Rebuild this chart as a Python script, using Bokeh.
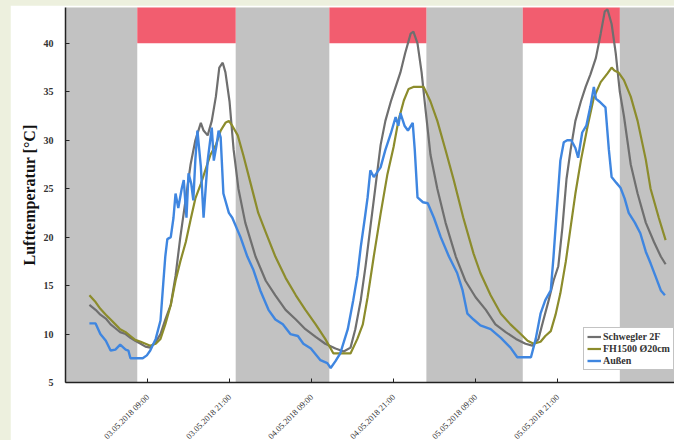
from bokeh.plotting import figure
from bokeh.models import Range1d, FixedTicker, Legend, LegendItem
from bokeh.embed import file_html
from bokeh.resources import INLINE

# ---- data (hours since 02.05.2018 21:00) ----
tick_hours = [12, 24, 36, 48, 60, 72]
tick_labels = ["03.05.2018 09:00", "03.05.2018 21:00", "04.05.2018 09:00",
               "04.05.2018 21:00", "05.05.2018 09:00", "05.05.2018 21:00"]

night_start = [0.0, 24.9, 52.8, 81.1]
night_end = [10.5, 38.6, 66.9, 90.0]
day_start = [10.5, 38.6, 66.9]
day_end = [24.9, 52.8, 81.1]
limit_temp = 40.0

schwegler_t = [3.5, 4.4, 5.1, 5.9, 6.6, 7.3, 8.0, 8.8, 9.5, 10.2, 11.0, 11.7, 12.4, 13.2, 13.9, 14.6,
               15.4, 16.1, 16.8, 17.6, 18.3, 19.0, 19.8, 20.2, 20.8, 21.4, 22.0, 22.5, 23.0, 23.4,
               24.0, 24.6, 25.3, 26.3, 27.8, 29.3, 30.7, 32.2, 33.7, 35.1, 36.6, 38.0, 39.5, 40.7,
               41.7, 42.4, 43.2, 43.9, 44.6, 45.4, 46.1, 46.8, 47.6, 48.3, 49.0, 49.7, 50.5, 50.9,
               51.5, 52.1, 52.7, 53.4, 54.4, 55.6, 57.1, 58.5, 60.0, 61.5, 62.9, 64.4, 65.9, 67.3,
               68.3, 69.2, 69.9, 70.7, 71.4, 72.1, 72.7, 73.3, 73.9, 74.6, 75.4, 76.1, 76.8, 77.6,
               78.3, 78.9, 79.3, 79.9, 80.5, 81.1, 81.7, 82.7, 83.7, 84.9, 86.1, 87.1, 87.8]
schwegler_v = [13.0, 12.5, 12.0, 11.6, 11.0, 10.6, 10.2, 10.0, 9.6, 9.3, 9.0, 8.7, 8.6, 9.2, 10.0, 11.5,
               13.0, 16.0, 20.0, 24.0, 27.5, 30.0, 31.8, 31.0, 30.5, 32.0, 34.5, 37.5, 38.0, 37.0,
               34.0, 29.0, 25.0, 21.5, 18.0, 15.5, 14.0, 12.5, 11.5, 10.5, 9.7, 9.0, 8.5, 8.2,
               8.6, 10.5, 13.5, 17.0, 21.0, 25.5, 29.5, 32.0, 34.0, 35.5, 37.0, 39.0, 41.0, 41.2,
               40.0, 37.0, 33.0, 28.5, 25.0, 21.5, 18.0, 15.5, 13.8, 12.5, 11.0, 10.2, 9.5, 9.0,
               8.8, 9.5, 11.4, 13.5, 15.5, 17.0, 21.0, 26.0, 29.0, 32.0, 34.0, 35.5, 36.8, 38.5,
               41.0, 43.3, 43.5, 42.0, 39.0, 35.0, 32.5, 27.5, 24.5, 21.5, 19.5, 18.0, 17.2]

fh_t = [3.5, 4.4, 5.1, 5.9, 6.6, 7.3, 8.0, 8.8, 9.5, 10.2, 11.0, 11.7, 12.4, 13.2, 13.9, 14.6, 15.4,
        16.1, 16.8, 17.6, 18.3, 19.0, 19.8, 20.5, 21.2, 22.0, 22.7, 23.4, 23.9, 24.4, 25.2, 26.0,
        27.1, 28.2, 29.3, 30.7, 32.2, 33.7, 35.1, 36.6, 38.0, 39.2, 41.7, 42.7, 43.5, 44.2, 45.1,
        46.1, 47.1, 48.0, 48.7, 49.5, 50.2, 50.9, 52.4, 53.4, 54.4, 55.6, 56.8, 58.2, 59.7, 60.7,
        62.2, 63.7, 65.1, 66.6, 67.6, 68.5, 69.5, 70.2, 71.0, 71.7, 72.4, 73.2, 73.9, 74.6, 75.4,
        76.4, 77.3, 78.3, 79.3, 79.9, 80.3, 80.9, 81.7, 82.7, 83.7, 84.9, 85.6, 86.8, 87.8]
fh_v = [14.0, 13.3, 12.6, 12.0, 11.5, 11.0, 10.5, 10.2, 9.8, 9.4, 9.2, 9.0, 8.8, 9.0, 9.5, 11.0, 13.0,
        15.5, 17.5, 19.5, 21.8, 24.0, 25.5, 27.0, 28.5, 29.5, 31.0, 31.8, 32.0, 31.5, 30.5, 28.5,
        25.5, 22.5, 20.5, 18.0, 15.8, 14.0, 12.5, 11.0, 9.5, 8.0, 8.0, 9.5, 11.0, 13.8, 18.0,
        22.4, 26.5, 29.3, 32.0, 34.1, 35.3, 35.5, 35.5, 34.0, 32.0, 29.0, 25.9, 22.0, 18.3, 16.3,
        14.0, 12.1, 11.0, 10.0, 9.3, 9.0, 9.2, 9.8, 10.3, 12.0, 14.2, 17.5, 21.0, 24.5, 27.9,
        31.5, 34.4, 36.0, 36.9, 37.5, 37.2, 37.0, 36.2, 34.5, 32.0, 28.0, 25.0, 22.0, 19.7]

aussen_t = [3.5, 4.4, 5.1, 5.9, 6.6, 7.3, 8.0, 8.8, 9.2, 9.5, 11.3, 11.9, 12.4, 13.2, 13.9, 14.3, 14.6,
            14.9, 15.4, 15.8, 16.1, 16.5, 17.0, 17.3, 17.7, 18.0, 18.4, 18.7, 19.0, 19.3, 19.8, 20.2,
            20.8, 21.4, 21.7, 22.1, 22.4, 22.7, 23.1, 23.9, 24.4, 25.6, 26.6, 27.5, 28.5, 29.7, 30.7,
            31.8, 32.9, 34.0, 34.8, 35.9, 37.3, 38.3, 38.8, 39.5, 40.2, 41.3, 42.1, 42.7, 43.2, 43.8,
            44.2, 44.6, 45.1, 46.1, 46.8, 47.6, 48.3, 48.7, 49.0, 49.6, 50.1, 50.8, 51.1, 51.5, 52.3,
            53.0, 53.9, 54.9, 56.1, 57.3, 58.1, 58.8, 59.7, 60.7, 62.2, 63.7, 65.1, 66.1, 68.1, 68.8,
            69.5, 70.2, 71.0, 71.4, 71.9, 72.4, 72.9, 73.4, 74.0, 74.6, 75.0, 75.6, 76.2, 76.8, 77.3,
            77.6, 78.1, 79.0, 79.5, 79.9, 80.6, 81.2, 81.8, 82.4, 83.3, 84.1, 84.9, 85.6, 86.3, 87.1,
            87.7]
aussen_v = [11.1, 11.1, 10.0, 9.3, 8.3, 8.4, 8.9, 8.4, 8.3, 7.5, 7.5, 7.8, 8.3, 9.5, 11.4, 15.2, 18.0,
            19.8, 20.0, 22.0, 24.5, 23.0, 25.0, 25.9, 22.0, 26.6, 25.5, 23.8, 28.0, 31.0, 27.3, 22.0,
            27.9, 31.3, 27.9, 29.5, 31.0, 30.3, 24.5, 22.5, 22.0, 20.0, 18.0, 16.6, 14.5, 12.5, 11.5,
            11.0, 10.0, 9.8, 9.0, 8.5, 7.3, 7.0, 6.5, 7.2, 8.0, 10.5, 13.5, 16.0, 19.0, 22.0,
            24.1, 26.9, 26.2, 27.2, 29.0, 30.7, 32.4, 31.5, 32.8, 31.5, 31.0, 31.8, 29.0, 24.1, 23.6,
            23.5, 22.0, 20.0, 18.0, 16.3, 14.5, 12.1, 11.5, 10.9, 10.5, 9.6, 8.6, 7.6, 7.6, 9.5,
            12.1, 13.5, 14.5, 18.0, 23.0, 27.9, 29.8, 30.0, 30.0, 29.2, 28.2, 30.8, 31.5, 33.5, 35.5,
            34.3, 34.0, 33.4, 29.0, 26.2, 25.6, 25.1, 24.0, 22.5, 21.5, 20.4, 18.5, 17.3, 16.0, 14.5,
            14.0]

series_names = ["Schwegler 2F", "FH1500 Ø20cm", "Außen"]
series_colors = ["#6f6f6f", "#8c8c2c", "#3f86e0"]

# ---- figure ----
p = figure(frame_width=609, frame_height=375, output_backend="svg", toolbar_location=None,
           x_range=Range1d(0, 89.1), y_range=Range1d(5, 43.7),
           min_border_left=55, min_border_right=0, min_border_top=2, min_border_bottom=58)
p.background_fill_color = "white"
p.border_fill_color = "white"
p.outline_line_color = None
p.grid.visible = False

p.quad(left=night_start, right=night_end, bottom=0, top=60, color="#c2c2c2", line_color=None)
p.quad(left=day_start, right=day_end, bottom=limit_temp, top=60, color="#f25d6f", line_color=None)

renderers = []
for t, v, c, w in [(schwegler_t, schwegler_v, series_colors[0], 2.2),
                   (fh_t, fh_v, series_colors[1], 2.2),
                   (aussen_t, aussen_v, series_colors[2], 2.4)]:
    renderers.append(p.line(t, v, line_color=c, line_width=w))

serif = "Liberation Serif"
p.yaxis.ticker = FixedTicker(ticks=[5, 10, 15, 20, 25, 30, 35, 40])
p.yaxis.axis_label = "Lufttemperatur [°C]"
p.yaxis.axis_label_text_font = serif
p.yaxis.axis_label_text_font_style = "bold"
p.yaxis.axis_label_text_font_size = "16px"
p.yaxis.axis_label_text_color = "#111111"
p.yaxis.axis_label_standoff = 3
p.yaxis.major_label_text_font = serif
p.yaxis.major_label_text_font_style = "bold"
p.yaxis.major_label_text_font_size = "10px"
p.yaxis.major_label_text_color = "#333333"
p.yaxis.major_label_standoff = 12

p.xaxis.ticker = FixedTicker(ticks=tick_hours)
p.xaxis.major_label_overrides = {h: l for h, l in zip(tick_hours, tick_labels)}
p.xaxis.major_label_orientation = 0.785
p.xaxis.major_label_text_font = serif
p.xaxis.major_label_text_font_size = "8.5px"
p.xaxis.major_label_text_color = "#333333"
p.xaxis.major_label_standoff = 13

for ax in (p.xaxis, p.yaxis):
    ax.axis_line_color = "#222222"
    ax.axis_line_width = 1.5
    ax.major_tick_in = 4
    ax.major_tick_out = 0
    ax.major_tick_line_color = "#222222"
    ax.minor_tick_line_color = None

legend = Legend(items=[LegendItem(label=n, renderers=[r]) for n, r in zip(series_names, renderers)],
                location=(518, 12))
legend.label_text_font = serif
legend.label_text_font_size = "10px"
legend.label_text_font_style = "bold"
legend.label_text_color = "#333333"
legend.glyph_width = 14
legend.glyph_height = 11
legend.label_height = 11
legend.label_standoff = 2
legend.spacing = 1
legend.padding = 3
legend.margin = 0
legend.border_line_color = "#888888"
legend.border_line_width = 1
legend.background_fill_color = "white"
legend.background_fill_alpha = 1.0
p.add_layout(legend)

html = file_html(p, INLINE)
style = ("<style>html, body { background-color: #edf0de !important; margin: 0 !important; "
         "padding: 0 !important; } body { padding: 5px 0 0 10px !important; "
         "box-sizing: border-box; overflow: hidden; }</style></head>")
html = html.replace("</head>", style, 1)
open("out.html", "w").write(html)
